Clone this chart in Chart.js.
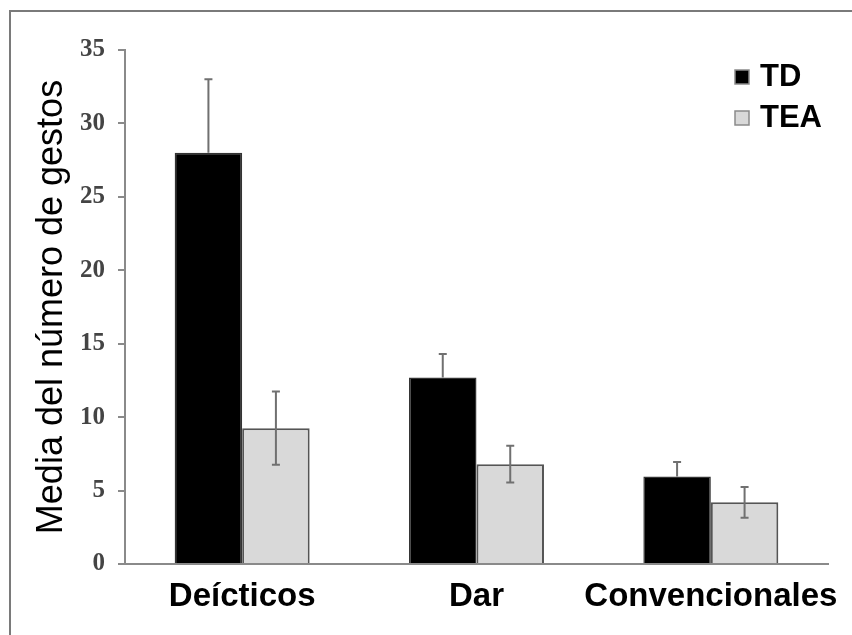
<!DOCTYPE html>
<html>
<head>
<meta charset="utf-8">
<script src="https://cdn.jsdelivr.net/npm/chart.js@4.4.0/dist/chart.umd.min.js"></script>
<style>
  body { margin: 0; background: #fff; }
  #wrap { position: relative; width: 852px; height: 635px; overflow: hidden; }
  #marco { position: absolute; left: 9px; top: 10px; width: 900px; height: 700px;
           border-top: 2px solid #7a7a7a; border-left: 2px solid #7a7a7a; }
  canvas { position: absolute; left: 0; top: 0; }
</style>
</head>
<body>
<div id="wrap">
  <div id="marco"></div>
  <canvas id="grafico" width="852" height="635"></canvas>
</div>
<script>
// datos
const categorias = ["Deícticos", "Dar", "Convencionales"];
const nombresSeries = ["TD", "TEA"];
const mediaTD = [28, 12.7, 5.95];
const errorTD = [5, 1.6, 1.0];
const mediaTEA = [9.25, 6.8, 4.2];
const errorTEA = [2.5, 1.25, 1.05];
const ticksY = [0, 5, 10, 15, 20, 25, 30, 35];

const ctx = document.getElementById('grafico');

// barras de error: TD solo hacia arriba, TEA en ambos sentidos
const barrasError = {
    id: 'barrasError',
    afterDatasetDraw(chart, args) {
        const ds = chart.data.datasets[args.index];
        const meta = args.meta;
        const y = chart.scales.y;
        const c = chart.ctx;
        c.save();
        c.strokeStyle = '#707070';
        c.lineWidth = 2;
        meta.data.forEach((bar, i) => {
            const v = ds.data[i];
            const e = ds.errores[i];
            const yTop = y.getPixelForValue(v + e);
            const yBot = ds.soloArriba ? y.getPixelForValue(v) : y.getPixelForValue(v - e);
            c.beginPath();
            c.moveTo(bar.x, yTop);
            c.lineTo(bar.x, yBot);
            c.moveTo(bar.x - 4, yTop);
            c.lineTo(bar.x + 4, yTop);
            if (!ds.soloArriba) {
                c.moveTo(bar.x - 4, yBot);
                c.lineTo(bar.x + 4, yBot);
            }
            c.stroke();
        });
        c.restore();
    }
};

// leyenda vertical dentro del area, arriba a la derecha
const leyenda = {
    id: 'leyenda',
    afterDraw(chart) {
        const c = chart.ctx;
        c.save();
        c.font = 'bold 31px "Liberation Sans", Arial, sans-serif';
        c.textBaseline = 'middle';
        chart.data.datasets.forEach((ds, i) => {
            const yc = 77 + i * 41;
            c.fillStyle = ds.backgroundColor;
            c.fillRect(735, yc - 7, 14, 14);
            c.strokeStyle = '#8a8a8a';
            c.lineWidth = 1.5;
            c.strokeRect(735, yc - 7, 14, 14);
            c.fillStyle = '#000';
            c.fillText(ds.label, 760, yc);
        });
        c.restore();
    }
};

new Chart(ctx, {
    type: 'bar',
    data: {
        labels: categorias,
        datasets: [
            {
                label: nombresSeries[0],
                data: mediaTD,
                errores: errorTD,
                soloArriba: true,
                backgroundColor: '#000000',
                borderColor: '#333333',
                borderWidth: 1.5
            },
            {
                label: nombresSeries[1],
                data: mediaTEA,
                errores: errorTEA,
                soloArriba: false,
                backgroundColor: '#d9d9d9',
                borderColor: '#555555',
                borderWidth: 2
            }
        ]
    },
    options: {
        responsive: false,
        animation: false,
        devicePixelRatio: 1,
        layout: { padding: { left: 20, top: 50, right: 24, bottom: 0 } },
        categoryPercentage: 0.576,
        barPercentage: 1.0,
        plugins: {
            legend: { display: false },
            tooltip: { enabled: false }
        },
        scales: {
            x: {
                grid: { display: false },
                border: { color: '#8a8a8a', width: 2 },
                ticks: {
                    color: '#000',
                    padding: 5,
                    maxRotation: 0,
                    minRotation: 0,
                    autoSkip: false,
                    font: { family: '"Liberation Sans", Arial, sans-serif', size: 33, weight: 'bold' }
                },
                afterFit(scale) { scale.height = 71; }
            },
            y: {
                min: 0,
                max: 35,
                afterBuildTicks(scale) { scale.ticks = ticksY.map(v => ({ value: v })); },
                grid: { drawOnChartArea: false, drawTicks: true, tickLength: 7, color: '#8a8a8a', lineWidth: 2 },
                border: { color: '#8a8a8a', width: 2 },
                ticks: {
                    color: '#444444',
                    padding: 13,
                    font: { family: '"Liberation Serif", "Times New Roman", serif', size: 25, weight: 'bold' }
                },
                title: {
                    display: true,
                    text: 'Media del número de gestos',
                    color: '#000',
                    padding: { top: 10, bottom: 0 },
                    font: { family: '"Liberation Sans", Arial, sans-serif', size: 36 }
                },
                afterFit(scale) { scale.width = 105; }
            }
        }
    },
    plugins: [barrasError, leyenda]
});
</script>
</body>
</html>
